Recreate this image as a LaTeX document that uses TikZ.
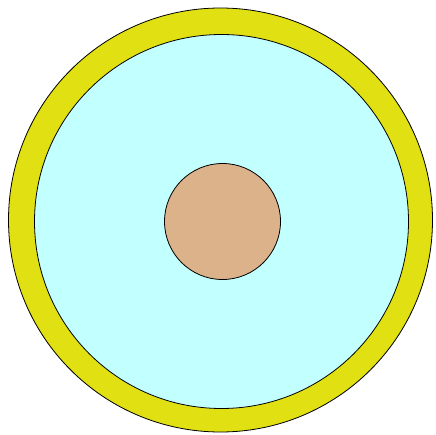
\documentclass[tikz,border=0pt]{standalone}
\definecolor{ringyellow}{RGB}{224,224,18}
\definecolor{fillcyan}{RGB}{194,255,255}
\definecolor{corebrown}{RGB}{220,178,138}
\tikzset{disc/.style={draw=black, line width=0.8pt}}
\begin{document}
\begin{tikzpicture}[x=1pt,y=-1pt]
\fill[white] (0,0) rectangle (435,435);
\useasboundingbox (0,0) rectangle (435,435);
\node[disc, circle, fill=ringyellow, minimum size=424pt, inner sep=0pt] (outer) at (220.5,220) {};
\node[disc, circle, fill=fillcyan, minimum size=374pt, inner sep=0pt] (inner) at (221.5,221.5) {};
\node[disc, circle, fill=corebrown, minimum size=116pt, inner sep=0pt] (core) at (222.5,221.5) {};
\end{tikzpicture}
\end{document}
